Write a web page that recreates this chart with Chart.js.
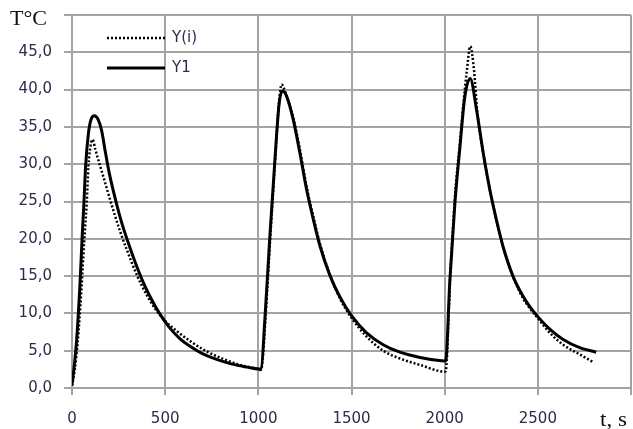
<!DOCTYPE html>
<html>
<head>
<meta charset="utf-8">
<script src="https://cdn.jsdelivr.net/npm/chart.js@4/dist/chart.umd.min.js"></script>
<style>
  html, body { margin:0; padding:0; background:#fff; }
  #wrap { width:633px; height:429px; }
</style>
</head>
<body>
<div id="wrap"><canvas id="chart" width="633" height="429"></canvas></div>
<script>
// Y1 (solid) - time, s / temperature, °C
const tY1 = [0, 10, 25, 43, 55, 64, 73, 88, 102, 120, 140, 159, 180, 200, 230, 265, 300, 340, 380, 420, 467, 520, 580, 640, 700, 780, 860, 940, 1000,
             1015, 1035, 1062, 1089, 1112, 1130, 1152, 1187, 1223, 1259, 1295, 1330, 1384, 1438, 1500, 1581, 1670, 1760, 1867, 1983, 2005,
             2028, 2055, 2082, 2108, 2137, 2171, 2207, 2243, 2278, 2314, 2368, 2421, 2460, 2502, 2564, 2636, 2725, 2813];
const y1  = [0.4, 2.5, 6.5, 14, 20.5, 24.8, 29.7, 34.1, 36, 36.5, 36, 34.5, 31.5, 28.8, 25.6, 22.3, 19.6, 16.8, 14.3, 12.2, 10.1, 8.2, 6.6, 5.5, 4.6, 3.8, 3.2, 2.8, 2.55,
             2.6, 9.2, 20.4, 30.6, 38.2, 39.8, 39.1, 36, 31.5, 26.6, 22.6, 19.1, 15.1, 12.2, 9.7, 7.4, 5.8, 4.8, 4.1, 3.65, 3.6,
             14.5, 24.8, 32.3, 39, 41.5, 37.3, 31.5, 26.5, 22.5, 18.9, 14.9, 12.3, 10.8, 9.5, 7.9, 6.5, 5.4, 4.8];

// Y(i) (dotted)
const tYi = [0, 15, 30, 50, 65, 79, 88, 100, 111, 125, 141, 165, 186, 222, 258, 293, 347, 400, 450, 504, 579, 651, 723, 812, 901, 1000, 1010,
             1020, 1040, 1065, 1090, 1110, 1125, 1140, 1160, 1190, 1223, 1259, 1295, 1330, 1384, 1438, 1500, 1581, 1670, 1760, 1867, 2000, 2005,
             2030, 2055, 2082, 2108, 2119, 2137, 2158, 2175, 2207, 2243, 2278, 2314, 2368, 2421, 2460, 2502, 2564, 2636, 2725, 2795];
const yi  = [0.3, 2.5, 6, 13, 19.5, 24.8, 29.7, 32.5, 33.3, 32, 30.6, 28.6, 26.8, 23.8, 21, 18.6, 15.2, 12.5, 10.5, 8.9, 7.3, 6, 4.9, 3.9, 3.1, 2.5, 2.4,
             3, 10, 20.5, 30.5, 38, 40.7, 40, 38.5, 36, 32, 27, 23, 19.4, 15.2, 12.0, 9.4, 6.9, 5.0, 3.95, 3.1, 2.2, 2.2,
             15, 25.5, 33, 40, 42.5, 45.8, 42.5, 37, 31.5, 26.5, 22.5, 18.9, 14.9, 12, 10.6, 9.3, 7.4, 5.8, 4.5, 3.5];

const xTicks = [0, 500, 1000, 1500, 2000, 2500];
const seriesNames = ['Y(i)', 'Y1'];
const yTitle = 'T°C';
const xTitle = 't, s';

const textColor = '#2b2b4b';
const gridColor = '#a3a3a3';
const dotDash = [2, 2];

function pts(xs, ys){ return xs.map((x,i)=>({x:x, y:ys[i]})); }

const overlay = {
    id:'overlay',
    afterDraw(chart){
        const ctx = chart.ctx;
        ctx.save();
        // axis titles
        ctx.fillStyle = '#111';
        ctx.textBaseline = 'middle';
        ctx.font = '21px "Liberation Serif"';
        ctx.save();
        ctx.translate(10, 19);
        ctx.scale(1.05, 1);
        ctx.fillText(yTitle, 0, 0);
        ctx.restore();
        ctx.save();
        ctx.translate(600, 420);
        ctx.scale(1.1, 1);
        ctx.fillText(xTitle, 0, 0);
        ctx.restore();
        // legend
        const lx = 107, lw = 58;
        const rows = [38, 68];
        ctx.strokeStyle = '#000';
        ctx.lineCap = 'butt';
        ctx.lineWidth = 2.5;
        ctx.setLineDash(dotDash);
        ctx.beginPath(); ctx.moveTo(lx, rows[0]); ctx.lineTo(lx+lw, rows[0]); ctx.stroke();
        ctx.setLineDash([]);
        ctx.lineWidth = 3;
        ctx.beginPath(); ctx.moveTo(lx, rows[1]); ctx.lineTo(lx+lw, rows[1]); ctx.stroke();
        ctx.fillStyle = textColor;
        ctx.font = '15px "DejaVu Sans"';
        seriesNames.forEach((n,i)=>ctx.fillText(n, 172, rows[i]));
        ctx.restore();
    }
};

new Chart(document.getElementById('chart').getContext('2d'), {
    type:'line',
    data:{
        datasets:[
            {label:seriesNames[0], data:pts(tYi, yi), borderColor:'#000', borderWidth:2.5, borderDash:dotDash,
             pointRadius:0, cubicInterpolationMode:'monotone', fill:false},
            {label:seriesNames[1], data:pts(tY1, y1), borderColor:'#000', borderWidth:3,
             pointRadius:0, cubicInterpolationMode:'monotone', fill:false}
        ]
    },
    options:{
        responsive:false,
        animation:false,
        layout:{padding:{top:15, right:2, left:0, bottom:0}},
        plugins:{legend:{display:false}, tooltip:{enabled:false}},
        scales:{
            x:{
                type:'linear', min:0, max:3000,
                afterBuildTicks: s => { s.ticks = xTicks.concat([3000]).map(v=>({value:v})); },
                afterFit: s => { s.height = 41; s.paddingLeft = 0; s.paddingRight = 0; },
                grid:{color:gridColor, lineWidth:2, tickLength:7, tickColor:gridColor},
                border:{color:gridColor, width:2},
                ticks:{
                    color:textColor, font:{family:'DejaVu Sans', size:15}, padding:15, maxRotation:0,
                    callback: v => v === 3000 ? '' : String(v)
                }
            },
            y:{
                min:0, max:50,
                afterFit: s => { s.width = 72; s.paddingTop = 0; s.paddingBottom = 0; },
                grid:{color:gridColor, lineWidth:2, tickLength:8, tickColor:gridColor},
                border:{color:gridColor, width:2},
                ticks:{
                    stepSize:5, color:textColor, font:{family:'DejaVu Sans', size:15}, padding:12,
                    callback: v => v === 50 ? '' : v.toFixed(1).replace('.', ',')
                }
            }
        }
    },
    plugins:[overlay]
});
</script>
</body>
</html>
